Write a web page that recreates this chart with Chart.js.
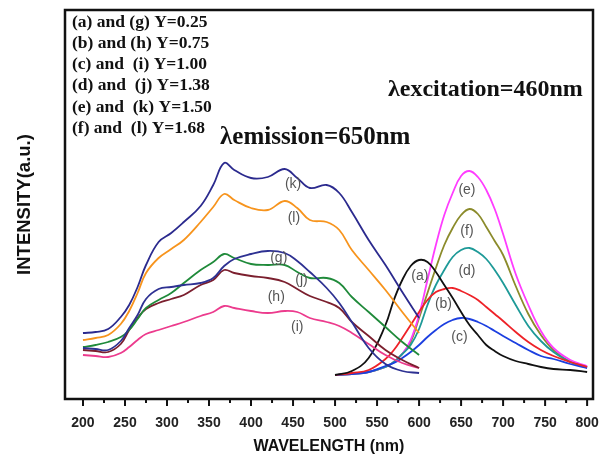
<!DOCTYPE html>
<html>
<head>
<meta charset="utf-8">
<script src="https://cdn.jsdelivr.net/npm/chart.js@4"></script>
<style>
  html, body { margin: 0; padding: 0; background: #fff; }
  #wrap { width: 611px; height: 459px; }
</style>
</head>
<body>
<div id="wrap"><canvas id="canvas1"></canvas></div>
<script>
// excitation spectra (emission monitored at 650 nm)
var wlEx = [200, 215, 230, 245, 255, 265, 275, 290, 305, 320, 340, 355, 368, 380, 400, 420, 440, 455, 470, 490, 505, 520, 540, 560, 580, 600];
var kVals = [66, 67, 70, 82, 94, 112, 134, 157, 166, 177, 193, 214, 236, 229, 221, 222, 230, 221, 211, 214, 206, 187, 159, 134, 107, 81];
var lVals = [59, 61, 64, 75, 88, 106, 126, 141, 150, 159, 177, 192, 205, 199, 191, 189, 198, 191, 179, 177, 169, 149, 129, 109, 87, 66];
var gVals = [51, 50, 49, 58, 71, 84, 100, 110, 112, 114, 116, 121, 133, 140, 145, 148, 146, 138, 127, 111, 96, 77, 51, 35, 28, 26];
var jVals = [52, 54, 57, 62, 69, 80, 91, 99, 106, 116, 129, 137, 145, 141, 135, 134, 134, 127, 121, 121, 116, 102, 87, 72, 57, 44];
var hVals = [49, 48, 47, 55, 69, 81, 90, 96, 100, 104, 114, 119, 129, 126, 123, 121, 117, 110, 103, 97, 91, 77, 63, 49, 39, 31];
var iVals = [44, 43, 42, 46, 52, 59, 65, 69, 73, 77, 83, 87, 93, 91, 88, 86, 88, 87, 81, 77, 73, 66, 55, 44, 36, 31];

// emission spectra (excited at 460 nm)
var wlEm = [500, 520, 540, 560, 570, 580, 590, 600, 610, 620, 630, 640, 650, 660, 670, 680, 690, 700, 715, 730, 745, 760, 780, 800];
var aVals = [24, 28, 41, 74, 99, 119, 133, 139, 137, 127, 114, 101, 87, 74, 64, 54, 48, 43, 38, 35, 32, 30, 29, 27];
var bVals = [24, 26, 29, 40, 49, 61, 74, 87, 99, 107, 110, 111, 108, 104, 99, 92, 85, 78, 67, 57, 49, 43, 37, 32];
var cVals = [24, 25, 27, 33, 36, 41, 47, 54, 62, 69, 75, 79, 81, 80, 77, 73, 68, 63, 56, 49, 43, 40, 35, 31];
var dVals = [24, 25, 27, 32, 37, 45, 54, 70, 94, 114, 129, 142, 149, 151, 147, 140, 129, 116, 94, 73, 58, 47, 37, 32];
var eVals = [24, 25, 27, 32, 37, 45, 59, 84, 119, 154, 184, 206, 223, 228, 222, 209, 190, 165, 125, 94, 68, 51, 39, 33];
var fVals = [24, 25, 27, 32, 37, 45, 57, 81, 106, 131, 154, 171, 184, 190, 185, 172, 158, 144, 113, 85, 64, 49, 37, 32];

var xTicks = [200, 225, 250, 275, 300, 325, 350, 375, 400, 425, 450, 475, 500, 525, 550, 575, 600, 625, 650, 675, 700, 725, 750, 775, 800];

// curve tags (text, wavelength, intensity)
var tagText = ['(k)', '(l)', '(g)', '(j)', '(h)', '(i)', '(a)', '(b)', '(c)', '(d)', '(e)', '(f)'];
var tagX = [450, 451, 433, 460, 430, 455, 601, 629, 648, 657, 657, 657];
var tagY = [215, 181, 141, 119, 102, 72, 123, 95, 62, 128, 209, 168];

var legendLines = [
    '(a) and (g) Y=0.25',
    '(b) and (h) Y=0.75',
    '(c) and  (i) Y=1.00',
    '(d) and  (j) Y=1.38',
    '(e) and  (k) Y=1.50',
    '(f) and  (l) Y=1.68'
];

function pts(xs, ys) {
    var out = [];
    for (let i = 0; i < xs.length; i++) out.push({x: xs[i], y: ys[i]});
    return out;
}

function series(xs, ys, color) {
    return {
        data: pts(xs, ys),
        borderColor: color,
        backgroundColor: color,
        borderWidth: 1.8,
        pointRadius: 0,
        tension: 0.4,
        fill: false
    };
}

var decor = {
    id: 'decor',
    afterDatasetsDraw(chart) {
        const ctx = chart.ctx;
        const a = chart.chartArea;
        const xs = chart.scales.x;
        const ys = chart.scales.y;
        ctx.save();

        // frame
        ctx.strokeStyle = '#111';
        ctx.lineWidth = 2.5;
        ctx.strokeRect(a.left, a.top, a.right - a.left, a.bottom - a.top);

        // tick marks below the axis
        ctx.lineWidth = 2;
        xs.ticks.forEach(t => {
            const px = xs.getPixelForValue(t.value);
            const len = t.value % 50 === 0 ? 7 : 4;
            ctx.beginPath();
            ctx.moveTo(px, a.bottom);
            ctx.lineTo(px, a.bottom + len);
            ctx.stroke();
        });

        // curve tags
        ctx.fillStyle = '#555';
        ctx.font = '14px "Liberation Sans", Arial, sans-serif';
        ctx.textAlign = 'center';
        ctx.textBaseline = 'middle';
        for (let i = 0; i < tagText.length; i++) {
            ctx.fillText(tagText[i], xs.getPixelForValue(tagX[i]), ys.getPixelForValue(tagY[i]));
        }

        // composition list
        ctx.fillStyle = '#111';
        ctx.textAlign = 'left';
        ctx.font = 'bold 17.5px "Liberation Serif", "Times New Roman", serif';
        legendLines.forEach((s, i) => {
            ctx.fillText(s, a.left + 7, a.top + 12 + i * 21.3);
        });

        ctx.font = 'bold 24px "Liberation Serif", "Times New Roman", serif';
        ctx.fillText('\u03bbexcitation=460nm', a.left + 323, a.top + 80);
        ctx.font = 'bold 25px "Liberation Serif", "Times New Roman", serif';
        ctx.fillText('\u03bbemission=650nm', a.left + 155, a.top + 128);

        ctx.restore();
    }
};

var myChart1;

function start() {
    var canvas1 = document.getElementById('canvas1');

    myChart1 = new Chart(canvas1, {
        type: 'line',
        data: {
            datasets: [
                series(wlEx, kVals, '#2b2a8e'),
                series(wlEx, lVals, '#f7941d'),
                series(wlEx, gVals, '#2e3192'),
                series(wlEx, jVals, '#1f8a3a'),
                series(wlEx, hVals, '#7b1f2e'),
                series(wlEx, iVals, '#ec3b8d'),
                series(wlEm, aVals, '#111111'),
                series(wlEm, bVals, '#ee2228'),
                series(wlEm, cVals, '#1c3fe0'),
                series(wlEm, dVals, '#1e9a98'),
                series(wlEm, eVals, '#ff3cff'),
                series(wlEm, fVals, '#8b8b2b')
            ]
        },
        options: {
            responsive: true,
            maintainAspectRatio: false,
            animation: false,
            layout: {
                padding: {left: 14, right: 18, top: 10, bottom: 0}
            },
            plugins: {
                legend: {display: false},
                tooltip: {enabled: false}
            },
            scales: {
                x: {
                    type: 'linear',
                    min: 178.6,
                    max: 807,
                    afterBuildTicks: (scale) => {
                        scale.ticks = xTicks.map(v => ({value: v}));
                    },
                    afterFit: (scale) => {
                        scale.height = 60;
                        scale.paddingLeft = 0;
                        scale.paddingRight = 0;
                    },
                    grid: {display: false, drawTicks: false},
                    border: {display: false},
                    ticks: {
                        padding: 16,
                        color: '#222',
                        font: {family: '"Liberation Sans", Arial, sans-serif', size: 14, weight: 'bold'},
                        autoSkip: false,
                        maxRotation: 0,
                        callback: (v) => (v % 50 === 0 ? String(v) : '')
                    },
                    title: {
                        display: true,
                        text: 'WAVELENGTH (nm)',
                        color: '#111',
                        font: {family: '"Liberation Sans", Arial, sans-serif', size: 16, weight: 'bold'},
                        padding: {top: 0, bottom: 3}
                    }
                },
                y: {
                    min: 0,
                    max: 389,
                    afterFit: (scale) => { scale.width = 51; },
                    grid: {display: false, drawTicks: false},
                    border: {display: false},
                    ticks: {display: false},
                    title: {
                        display: true,
                        text: 'INTENSITY(a.u.)',
                        color: '#111',
                        font: {family: '"Liberation Sans", Arial, sans-serif', size: 18.5, weight: 'bold'},
                        padding: {top: 0, bottom: 0}
                    }
                }
            }
        },
        plugins: [decor]
    });
}

start();
</script>
</body>
</html>
